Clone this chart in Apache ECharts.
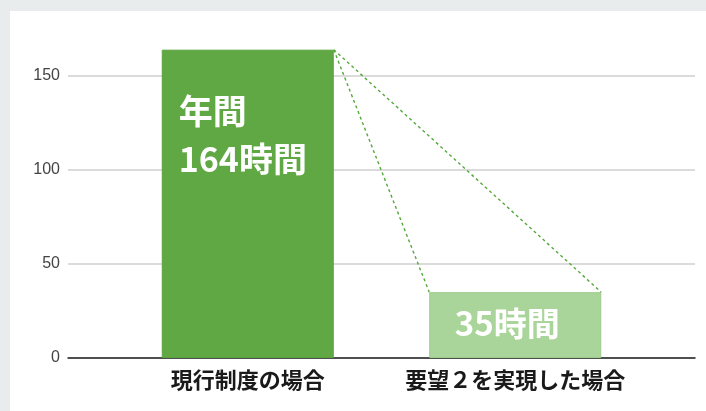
<!DOCTYPE html>
<html>
<head>
<meta charset="utf-8">
<script src="https://cdn.jsdelivr.net/npm/echarts@6/dist/echarts.min.js"></script>
<style>
html,body{margin:0;padding:0;background:#e9ecec;width:706px;height:411px;overflow:hidden;}
#chart{position:absolute;left:10px;top:11px;width:696px;height:400px;background:#ffffff;}
</style>
</head>
<body>
<div id="chart"></div>
<script>
// ---- data ----
const categories = ['現行制度の場合', '要望２を実現した場合'];
const hours = [164, 35];
const labelPrefixes = ['年間\n', ''];
const labelSuffix = '時間';
const yTicks = [0, 50, 100, 150];

const barColors = ['#5fa843', '#a9d59a'];
const barBorders = ['#5aa23f', '#9ccb8b'];
const BAR_W = 172;

const chart = echarts.init(document.getElementById('chart'), null, {renderer: 'canvas'});

const option = {
  animation: false,
  grid: [
    {left: 58, right: 11, top: 65, bottom: 53, containLabel: false},
    {left: 104, right: 57, top: 65, bottom: 53, containLabel: false}
  ],
  xAxis: [
    {
      gridIndex: 0, type: 'category', data: ['', ''],
      axisLine: {show: true, lineStyle: {color: '#222', width: 1.5}},
      axisTick: {show: false}, axisLabel: {show: false}, splitLine: {show: false}
    },
    {
      gridIndex: 1, type: 'category', data: categories,
      axisLine: {show: false}, axisTick: {show: false},
      axisLabel: {
        interval: 0, margin: 11, color: '#1a1a1a', fontSize: 22, fontWeight: 'bold',
        fontFamily: '"Noto Sans CJK JP", sans-serif'
      }
    }
  ],
  yAxis: [
    {
      gridIndex: 0, type: 'value', min: 0, max: 150, interval: 50,
      axisLine: {show: false}, axisTick: {show: false},
      axisLabel: {
        margin: 8, color: '#444', fontSize: 16, fontFamily: '"Liberation Sans", Arial, sans-serif',
        formatter: v => yTicks.indexOf(v) >= 0 ? String(v) : ''
      },
      splitLine: {lineStyle: {color: '#cfcfcf', width: 1.5}}
    },
    {
      gridIndex: 1, type: 'value', min: 0, max: 150, interval: 50, show: false
    }
  ],
  series: [
    {
      type: 'bar', xAxisIndex: 1, yAxisIndex: 1,
      barWidth: BAR_W, clip: false,
      data: hours.map((v, i) => ({
        value: v,
        itemStyle: {color: barColors[i], borderColor: barBorders[i], borderWidth: 1},
        label: i === 0 ? {
          show: true, position: [17, 37], align: 'left', verticalAlign: 'top',
          formatter: labelPrefixes[i] + v + labelSuffix,
          color: '#fff', fontSize: 34, fontWeight: 'bold', lineHeight: 48,
          fontFamily: '"Noto Sans CJK JP", sans-serif'
        } : {
          show: true, position: 'inside', offset: [-8, -2],
          formatter: labelPrefixes[i] + v + labelSuffix,
          color: '#fff', fontSize: 33, fontWeight: 'bold',
          fontFamily: '"Noto Sans CJK JP", sans-serif'
        }
      }))
    },
    {
      type: 'custom', xAxisIndex: 1, yAxisIndex: 1,
      data: [[0, hours[0], 1, hours[1]]],
      z: 5, clip: false,
      renderItem: function (params, api) {
        const a = api.coord([api.value(0), api.value(1)]);
        const b = api.coord([api.value(2), api.value(3)]);
        const h = BAR_W / 2;
        const style = {stroke: '#55a83c', lineWidth: 1.4, lineDash: [3, 3], fill: null};
        return {
          type: 'group',
          children: [
            {type: 'line', shape: {x1: a[0] + h, y1: a[1], x2: b[0] - h, y2: b[1]}, style: style},
            {type: 'line', shape: {x1: a[0] + h, y1: a[1], x2: b[0] + h, y2: b[1]}, style: style}
          ]
        };
      }
    }
  ]
};
chart.setOption(option);
</script>
</body>
</html>
